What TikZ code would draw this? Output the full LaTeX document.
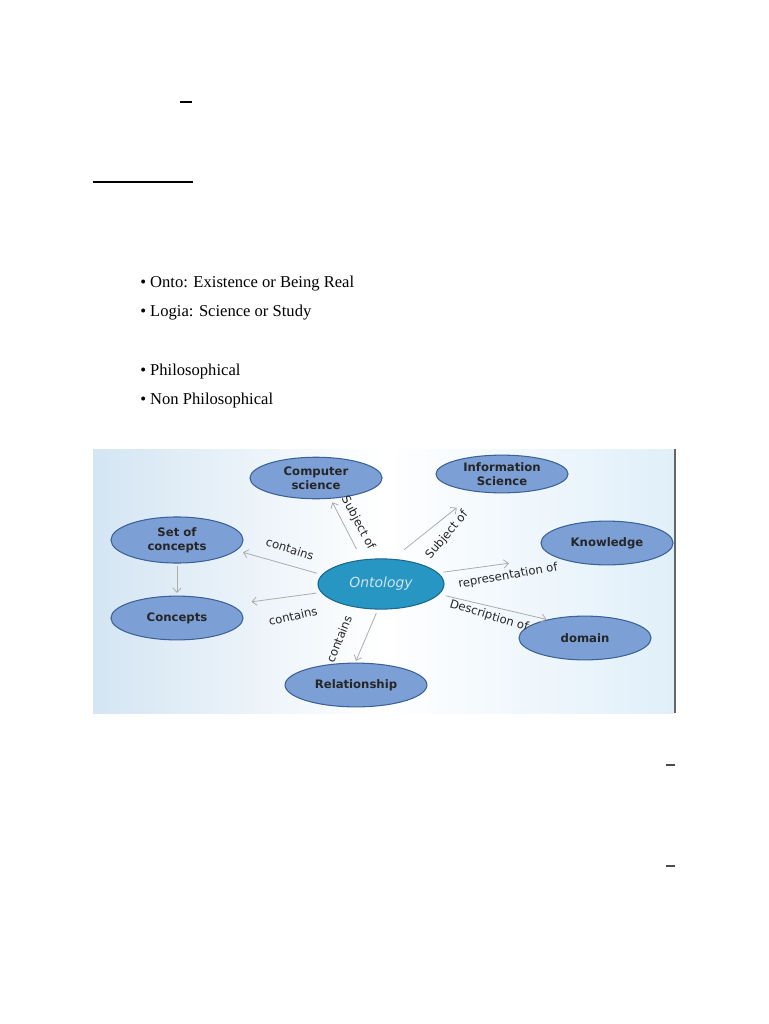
\documentclass[tikz,border=0pt]{standalone}
\usepackage{fontspec}
\setmainfont{Liberation Serif}
\newfontfamily\dejavu{DejaVu Sans}
\usepackage{tikz}
\usetikzlibrary{shapes.geometric,arrows.meta}
\definecolor{nodefill}{RGB}{124,160,214}
\definecolor{nodeedge}{RGB}{58,98,150}
\definecolor{ontofill}{RGB}{40,150,195}
\definecolor{ontoedge}{RGB}{28,104,142}
\definecolor{ontotext}{RGB}{205,228,238}
\definecolor{arrgray}{RGB}{172,172,172}
\definecolor{bgleft}{RGB}{212,229,243}
\definecolor{bgright}{RGB}{224,239,249}

\begin{document}
\begin{tikzpicture}[x=0.0265cm, y=-0.0265cm,
  ell/.style={ellipse, draw=nodeedge, fill=nodefill, line width=0.8pt, inner sep=0pt, minimum width=3.5cm, minimum height=1.16cm, align=center, font=\dejavu\bfseries\fontsize{8.8}{10.5}\selectfont, text=black!85},
  arr/.style={arrgray, line width=0.6pt, -{Straight Barb[length=1.2mm,width=2.2mm]}},
  lbl/.style={font=\dejavu\fontsize{8.8}{10}\selectfont, text=black!85, inner sep=0pt},
  bullet/.style={anchor=base west, font=\fontsize{12.5}{14}\selectfont, inner sep=0pt},
]
\useasboundingbox (0,0) rectangle (768,1024);

% page marks
\draw[line width=1pt] (180,102) -- (192,102);
\draw[line width=1.5pt] (93,182) -- (193,182);
\draw[black!70, line width=1pt] (666,765) -- (675,765);
\draw[black!70, line width=1pt] (666,866) -- (675,866);

% bullet list
\node[bullet] (b1) at (140,287) {• Onto: Existence or Being Real};
\node[bullet] (b2) at (140,316) {• Logia: Science or Study};
\node[bullet] (b3) at (140,375) {• Philosophical};
\node[bullet] (b4) at (140,404) {• Non Philosophical};

% diagram background
\shade[left color=bgleft, right color=bgright, middle color=white] (93,449) rectangle (675,713);
\draw[black!60, line width=0.8pt] (675,449) -- (675,713);

% Ontology map
\node[ell, fill=ontofill, draw=ontoedge, minimum width=3.34cm, minimum height=1.33cm, font=\dejavu\itshape\fontsize{10.5}{12}\selectfont, text=ontotext] (onto) at (381,584) {Ontology};
\node[ell, minimum height=1.1cm] (cs) at (316,478) {Computer\\science};
\node[ell, minimum height=1.0cm] (is) at (502,474) {Information\\Science};
\node[ell, minimum height=1.22cm] (soc) at (177,540) {Set of\\concepts};
\node[ell] (kn) at (607,543) {Knowledge};
\node[ell] (con) at (177,618) {Concepts};
\node[ell, minimum width=3.76cm] (rel) at (356,685) {Relationship};
\node[ell] (dom) at (585,638) {domain};

\draw[arr, shorten <=9pt, shorten >=3pt] (onto.128) -- (cs.-55);
\draw[arr, shorten <=11pt, shorten >=19pt] (onto.65) -- (is.-145);
\draw[arr, shorten <=4pt, shorten >=5pt] (onto.171) -- (soc.-10);
\draw[arr, shorten <=4pt, shorten >=35pt] (onto.11) -- (kn.195);
\draw[arr, shorten <=3.5pt, shorten >=16pt] (onto.188) -- (con.14);
\draw[arr, shorten <=3pt, shorten >=1.5pt] (onto.-97) -- (rel.92);
\draw[arr, shorten <=5pt, shorten >=0.5pt] (onto.-10) -- (dom.154);
\draw[arr, shorten <=1.5pt, shorten >=2pt] (soc) -- (con);

\node[lbl, rotate=-62] (l1) at (358,523) {Subject of};
\node[lbl, rotate=50] (l2) at (447,535) {Subject of};
\node[lbl, rotate=-18] (l3) at (290,549) {contains};
\node[lbl, rotate=10] (l4) at (508,576) {representation of};
\node[lbl, rotate=13] (l5) at (293,616) {contains};
\node[lbl, rotate=68] (l6) at (339,639) {contains};
\node[lbl, rotate=-17] (l7) at (489,616) {Description of};
\end{tikzpicture}
\end{document}
